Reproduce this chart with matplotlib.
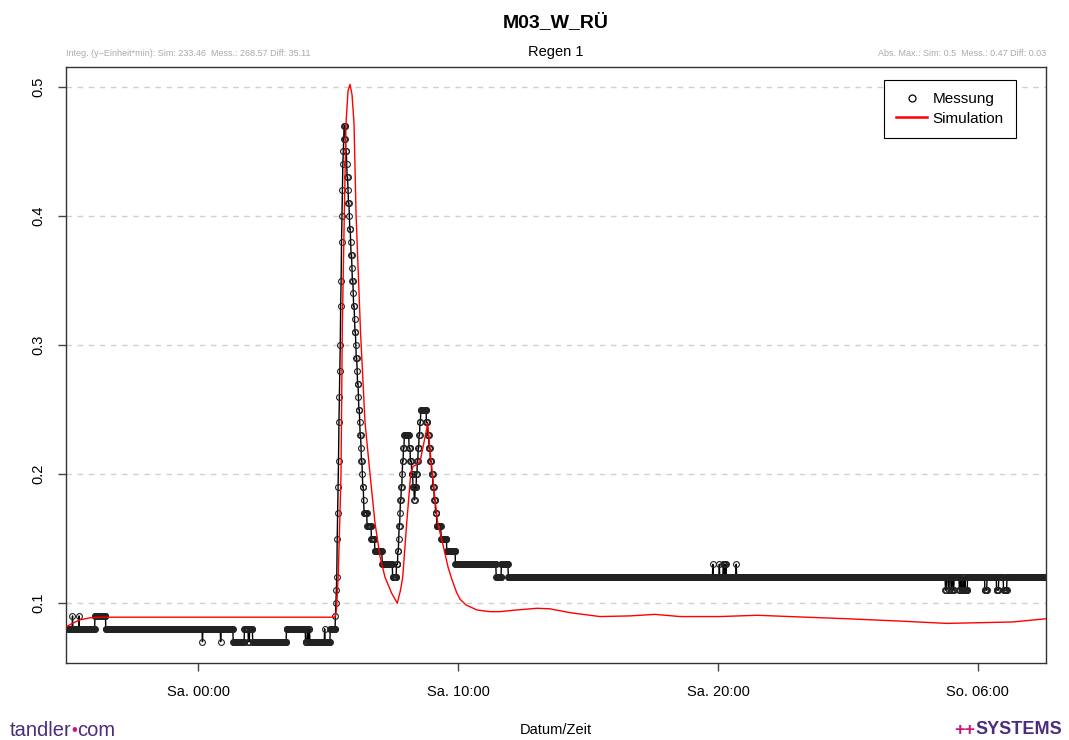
import numpy as np
import matplotlib
matplotlib.use("Agg")
import matplotlib.pyplot as plt
from matplotlib.lines import Line2D

plt.rcParams['font.family'] = ['Liberation Sans', 'DejaVu Sans']

# measurement: 1-minute readings, stored run-length (value, number of readings)
mess_start = -5.08          # hours relative to Sa. 00:00
mess_vals = [0.08, 0.09, 0.08, 0.09, 0.08, 0.09, 0.08, 0.07, 0.08, 0.07,
             0.08, 0.07, 0.08, 0.07, 0.08, 0.07, 0.08, 0.07, 0.08, 0.07,
             0.08, 0.07, 0.08, 0.07, 0.08,
             # first peak, rising
             0.09, 0.10, 0.11, 0.12, 0.15, 0.17, 0.19, 0.21, 0.24, 0.26,
             0.28, 0.30, 0.33, 0.35, 0.38, 0.40, 0.42, 0.44, 0.45, 0.46, 0.47,
             # falling
             0.46, 0.45, 0.44, 0.43, 0.42, 0.41, 0.40, 0.39, 0.38, 0.37,
             0.36, 0.35, 0.34, 0.33, 0.32, 0.31, 0.30, 0.29, 0.28, 0.27,
             0.26, 0.25, 0.24, 0.23, 0.22, 0.21, 0.20, 0.19, 0.18,
             0.17, 0.16, 0.15, 0.14, 0.13, 0.12, 0.13,
             # second peak
             0.14, 0.15, 0.16, 0.17, 0.18, 0.19, 0.20, 0.21, 0.22, 0.23,
             0.22, 0.21, 0.20, 0.19, 0.18, 0.19, 0.20, 0.21, 0.22, 0.23, 0.24,
             0.25, 0.24, 0.23, 0.22, 0.21, 0.20, 0.19, 0.18, 0.17,
             0.16, 0.15, 0.14, 0.13, 0.12, 0.13,
             # long tail
             0.12, 0.13, 0.12, 0.13, 0.12, 0.13, 0.12, 0.13, 0.12, 0.13,
             0.12, 0.13, 0.12,
             0.11, 0.12, 0.11, 0.12, 0.11, 0.12, 0.11, 0.12, 0.11, 0.12,
             0.11, 0.12, 0.11, 0.12, 0.11, 0.12, 0.11, 0.12, 0.11, 0.12,
             0.11, 0.12]
mess_counts = [15, 1, 14, 1, 36, 25, 223, 1, 41, 1,
               28, 26, 9, 3, 7, 78, 44, 4, 2, 2,
               2, 34, 1, 12, 12,
               1, 1, 1, 1, 1, 1, 1, 1, 1, 1,
               1, 1, 1, 1, 1, 1, 1, 1, 1, 1, 3,
               1, 2, 1, 2, 1, 2, 1, 2, 1, 2,
               1, 2, 1, 2, 1, 2, 1, 2, 1, 2,
               1, 2, 1, 2, 1, 2, 1, 2, 1,
               7, 10, 8, 17, 24, 9, 3,
               2, 1, 2, 1, 2, 2, 1, 2, 2, 11,
               3, 3, 3, 3, 2, 3, 2, 2, 2, 2, 2,
               13, 3, 3, 3, 3, 3, 3, 3, 3,
               10, 13, 20, 94, 12, 16,
               472, 1, 14, 1, 8, 2, 1, 2, 1, 1,
               23, 1, 482,
               3, 4, 2, 4, 2, 3, 2, 12, 3, 2,
               4, 1, 3, 1, 5, 40, 5, 22, 5, 11,
               8, 110]

# simulation curve (hours, value)
sim_t = [-5.077, -4.808, -4.538, -4.154, -3.769, 5.269, 5.327, 5.396, 5.5, 5.55,
         5.627, 5.692, 5.769, 5.846, 5.923, 6.0, 6.077, 6.25, 6.423, 6.615,
         6.808, 7.0, 7.192, 7.45, 7.665, 7.788, 7.873, 8.027, 8.181, 8.269,
         8.385, 8.538, 8.665, 8.835, 8.95, 9.077, 9.219, 9.423, 9.615, 9.769,
         9.95, 10.077, 10.308, 10.731, 11.231, 11.615, 12.192, 13.038, 13.538, 14.308,
         15.462, 16.615, 17.577, 18.538, 20.077, 21.5, 22.769, 24.962, 27.0, 28.808,
         31.346, 32.615]
sim_v = [0.0815, 0.0845, 0.087, 0.0885, 0.089, 0.089, 0.095, 0.123, 0.2, 0.314,
         0.402, 0.472, 0.497, 0.502, 0.494, 0.472, 0.402, 0.31, 0.24, 0.2,
         0.162, 0.136, 0.12, 0.1075, 0.0998, 0.11, 0.12, 0.162, 0.2, 0.206,
         0.207, 0.2095, 0.222, 0.239, 0.213, 0.1876, 0.162, 0.145, 0.128, 0.118,
         0.108, 0.103, 0.0985, 0.0946, 0.0933, 0.0933, 0.0945, 0.0959, 0.0955, 0.0925,
         0.0895, 0.090, 0.0912, 0.0895, 0.0895, 0.0905, 0.0895, 0.0878, 0.086, 0.0842,
         0.0853, 0.0878]

x_ticks = [0, 10, 20, 30]
x_labels = ['Sa. 00:00', 'Sa. 10:00', 'Sa. 20:00', 'So. 06:00']
y_ticks = [0.1, 0.2, 0.3, 0.4, 0.5]

mess_v = np.repeat(mess_vals, mess_counts)
mess_t = mess_start + np.arange(len(mess_v)) / 60.0

fig = plt.figure(figsize=(10.69, 7.40), dpi=100)
ax = fig.add_axes([66/1069, 1-663/740, 980/1069, 596/740])

for y in y_ticks:
    ax.axhline(y, color='#d0d0d0', lw=1, ls=(0, (4, 4)), zorder=0)

ax.plot(mess_t, mess_v, color='black', lw=1, marker='o', ms=4.2,
        mfc='none', mec='#222222', mew=0.8, zorder=2)
ax.plot(sim_t, sim_v, color='red', lw=1, zorder=3)

ax.set_xlim(-5.08, 32.62)
ax.set_ylim(0.0535, 0.5155)
ax.set_xticks(x_ticks)
ax.set_xticklabels(x_labels)
ax.set_yticks(y_ticks)
ax.set_yticklabels([str(v) for v in y_ticks], rotation=90, va='center')
ax.tick_params(axis='both', length=6, width=1, labelsize=10.5, color='#444444')
ax.tick_params(axis='x', pad=10)
ax.tick_params(axis='y', pad=9)
for s in ax.spines.values():
    s.set_color('#333333')
    s.set_linewidth(1)

handles = [Line2D([], [], ls='none', marker='o', ms=5, mfc='none', mec='black', mew=0.9),
           Line2D([], [], color='red', lw=1.8)]
leg = ax.legend(handles, ['Messung', 'Simulation'], loc='upper right',
                bbox_to_anchor=(0.969, 0.978), borderaxespad=0,
                fancybox=False, edgecolor='black', framealpha=1, fontsize=11,
                handlelength=2.0, handleheight=0.7, borderpad=0.8,
                labelspacing=0.35, handletextpad=0.35)
leg.get_frame().set_linewidth(0.8)

fig.text(556/1069, 1-22/740, 'M03_W_RÜ', ha='center', va='center',
         fontsize=14, fontweight='bold')
fig.text(556/1069, 1-52/740, 'Regen 1', ha='center', va='center', fontsize=10.5)
fig.text(66/1069, 1-53/740, 'Integ. (y\u2212Einheit*min): Sim: 233.46  Mess.: 268.57 Diff: 35.11',
         ha='left', va='center', fontsize=6.5, color='#aaaaaa')
fig.text(1046/1069, 1-53/740, 'Abs. Max.: Sim: 0.5  Mess.: 0.47 Diff: 0.03',
         ha='right', va='center', fontsize=6.5, color='#aaaaaa')
fig.text(556/1069, 1-730/740, 'Datum/Zeit', ha='center', va='center', fontsize=10.5)

purple = '#4b2c7d'
magenta = '#c8177a'
t1 = fig.text(10/1069, 1-730/740, 'tandler', ha='left', va='center',
              fontsize=14.5, color=purple, fontstretch='condensed')
a1 = ax.annotate('\u2022', xy=(1, 0.5), xycoords=t1, ha='left', va='center',
                 fontsize=12, color=magenta, annotation_clip=False)
ax.annotate('com', xy=(1, 0.5), xycoords=a1, ha='left', va='center',
            fontsize=14.5, color=purple, annotation_clip=False)
s1 = fig.text(1062/1069, 1-730/740, 'SYSTEMS', ha='right', va='center',
              fontsize=13, fontweight='bold', color=purple)
ax.annotate('++', xy=(0, 0.5), xycoords=s1, ha='right', va='center',
            fontsize=13, fontweight='bold', color=magenta, annotation_clip=False)

fig.savefig('out.png', dpi=100)
